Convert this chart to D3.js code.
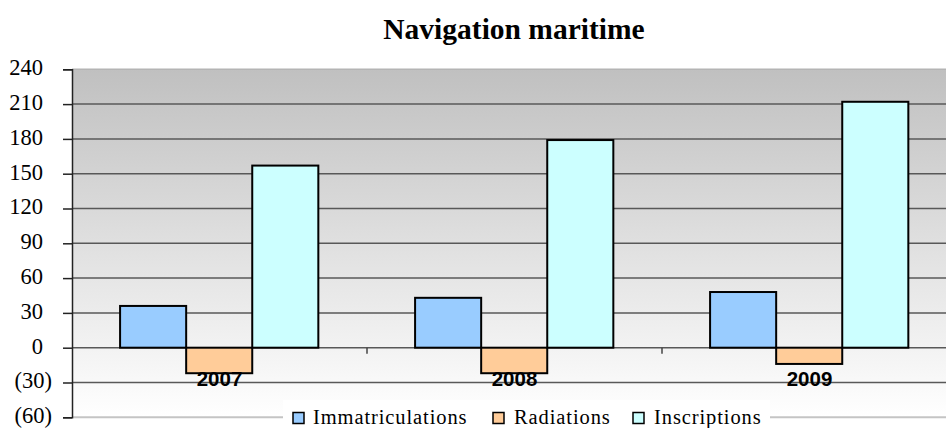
<!DOCTYPE html>
<html>
<head>
<meta charset="utf-8">
<script src="https://cdn.jsdelivr.net/npm/d3@7"></script>
<style>
  html, body { margin: 0; padding: 0; background: #ffffff; }
  svg { display: block; }
</style>
</head>
<body>
<svg id="chart" width="946" height="428"></svg>
<script>
// Chart data
const years = ["2007", "2008", "2009"];
const seriesNames = ["Immatriculations", "Radiations", "Inscriptions"];
const immatriculations = [36, 43, 48];
const radiations = [-22, -22, -14];
const inscriptions = [157, 179, 212];
const yTicks = [-60, -30, 0, 30, 60, 90, 120, 150, 180, 210, 240];
const seriesColors = ["#99ccff", "#ffcc99", "#ccffff"];

const seriesValues = [immatriculations, radiations, inscriptions];
const rows = years.map((y, i) => ({
  year: y,
  values: seriesNames.map((s, j) => ({ series: s, value: seriesValues[j][i] }))
}));

const svg = d3.select("#chart");
const plot = { left: 72, top: 69.3, right: 957, bottom: 417.3 };
const serif = "'Liberation Serif', 'Times New Roman', serif";

const y = d3.scaleLinear().domain([-60, 240]).range([plot.bottom, plot.top]);
const x0 = d3.scaleBand().domain(years).range([plot.left, plot.right]).padding(0);
const bw = x0.bandwidth();
const x1 = d3.scaleBand().domain(seriesNames).range([bw * 0.163, bw * 0.835]).padding(0);
const color = d3.scaleOrdinal().domain(seriesNames).range(seriesColors);

// Plot background gradient
const defs = svg.append("defs");
const grad = defs.append("linearGradient").attr("id", "bg")
  .attr("x1", 0).attr("y1", 0).attr("x2", 0).attr("y2", 1);
grad.append("stop").attr("offset", "0%").attr("stop-color", "#c0c0c0");
grad.append("stop").attr("offset", "100%").attr("stop-color", "#ffffff");

svg.append("rect")
  .attr("x", plot.left).attr("y", plot.top)
  .attr("width", plot.right - plot.left).attr("height", plot.bottom - plot.top)
  .attr("fill", "url(#bg)");

// Top and bottom borders of the plot area
svg.append("line")
  .attr("x1", plot.left).attr("x2", plot.right)
  .attr("y1", plot.top).attr("y2", plot.top)
  .attr("stroke", "#b4b4b4").attr("stroke-width", 1.5);
svg.append("line")
  .attr("x1", plot.left).attr("x2", plot.right)
  .attr("y1", plot.bottom).attr("y2", plot.bottom)
  .attr("stroke", "#c4c4c4").attr("stroke-width", 2);

// Horizontal gridlines
svg.append("g")
  .selectAll("line")
  .data(yTicks.filter(t => t > -60 && t < 240))
  .join("line")
  .attr("x1", plot.left).attr("x2", plot.right)
  .attr("y1", d => y(d)).attr("y2", d => y(d))
  .attr("stroke", "#585858").attr("stroke-width", 1.5);

// Y axis
const yAxis = d3.axisLeft(y).tickValues(yTicks).tickSize(9).tickFormat(d => d < 0 ? `(${-d})` : `${d}`);
const gy = svg.append("g").attr("transform", `translate(${plot.left},0)`).call(yAxis);
gy.select(".domain").attr("stroke", "#222").attr("stroke-width", 1.5);
gy.selectAll(".tick line").attr("stroke", "#222").attr("stroke-width", 1.5);
gy.selectAll(".tick text")
  .attr("font-family", serif)
  .attr("font-size", 22.5)
  .attr("fill", "#000")
  .attr("x", d => d < 0 ? -20 : -29)
  .attr("y", -2)
  .attr("dy", "0.33em");

// Category tick marks on the zero line
svg.append("g")
  .selectAll("line")
  .data(years.slice(1))
  .join("line")
  .attr("x1", d => x0(d)).attr("x2", d => x0(d))
  .attr("y1", y(0)).attr("y2", y(0) + 6)
  .attr("stroke", "#444").attr("stroke-width", 1.5);

// Bars
const groups = svg.append("g")
  .selectAll("g")
  .data(rows)
  .join("g")
  .attr("transform", d => `translate(${x0(d.year)},0)`);

groups.selectAll("rect")
  .data(d => d.values)
  .join("rect")
  .attr("x", d => x1(d.series))
  .attr("width", x1.bandwidth())
  .attr("y", d => y(Math.max(0, d.value)))
  .attr("height", d => Math.abs(y(d.value) - y(0)))
  .attr("fill", d => color(d.series))
  .attr("stroke", "#000")
  .attr("stroke-width", 2);

// Category labels
svg.append("g")
  .selectAll("text")
  .data(years)
  .join("text")
  .attr("x", d => x0(d) + bw / 2)
  .attr("y", y(0) + 38)
  .attr("text-anchor", "middle")
  .attr("font-family", "'Liberation Sans', Arial, sans-serif")
  .attr("font-weight", "bold")
  .attr("font-size", 20.5)
  .attr("fill", "#000")
  .text(d => d);

// Title
svg.append("text")
  .attr("x", 514).attr("y", 39)
  .attr("text-anchor", "middle")
  .attr("font-family", serif)
  .attr("font-weight", "bold")
  .attr("font-size", 29.5)
  .attr("fill", "#000")
  .text("Navigation maritime");

// Legend
const legend = svg.append("g");
legend.append("rect")
  .attr("x", 283).attr("y", 400).attr("width", 487).attr("height", 30)
  .attr("fill", "#ffffff");
const legendX = [293, 493, 633];
const items = legend.selectAll("g.item")
  .data(seriesNames)
  .join("g").attr("class", "item")
  .attr("transform", (d, i) => `translate(${legendX[i]},0)`);
items.append("rect")
  .attr("x", 0).attr("y", 412.5).attr("width", 11).attr("height", 11)
  .attr("fill", d => color(d)).attr("stroke", "#000").attr("stroke-width", 1.5);
items.append("text")
  .attr("x", (d, i) => i === 0 ? 20 : 21)
  .attr("y", 423.5)
  .attr("font-family", serif)
  .attr("font-size", 20.5)
  .attr("letter-spacing", 0.9)
  .attr("fill", "#000")
  .text(d => d);
</script>
</body>
</html>
